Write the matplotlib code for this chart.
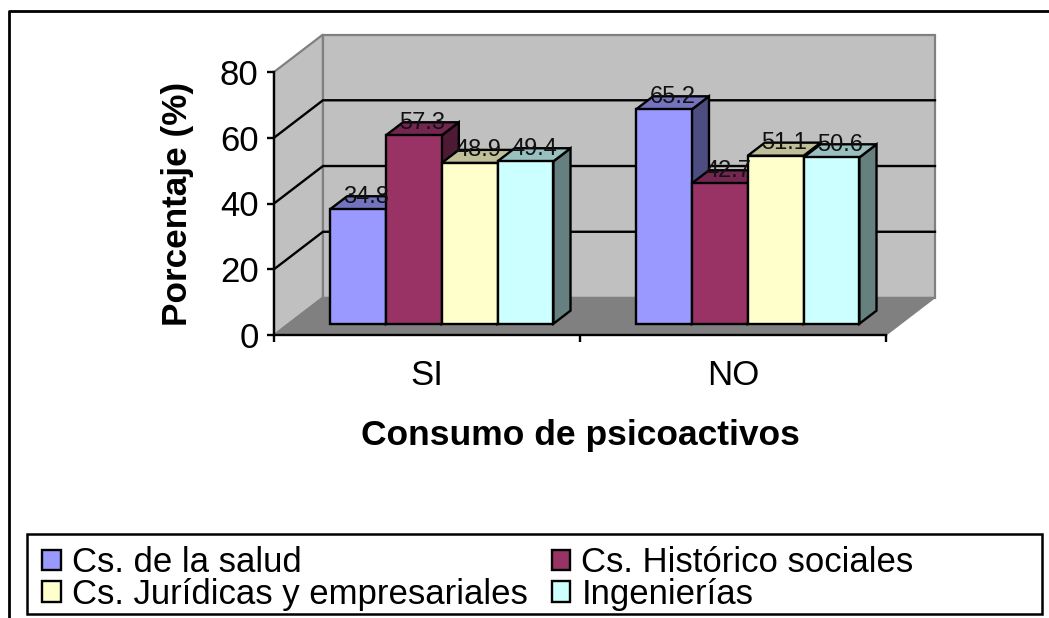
import matplotlib
matplotlib.use("Agg")
import matplotlib.pyplot as plt
from matplotlib.patches import Polygon, Rectangle, Patch
from matplotlib.lines import Line2D

plt.rcParams['font.family'] = ['Liberation Sans', 'DejaVu Sans']

categories = ['SI', 'NO']
series_names = ['Cs. de la salud', 'Cs. Histórico sociales',
                'Cs. Jurídicas y empresariales', 'Ingenierías']
salud = [34.8, 65.2]
historico = [57.3, 42.7]
juridicas = [48.9, 51.1]
ingenierias = [49.4, 50.6]
y_ticks = [0, 20, 40, 60, 80]

series = [salud, historico, juridicas, ingenierias]
front = ['#9999FF', '#993366', '#FFFFCC', '#CCFFFF']
top = ['#7373BF', '#732650', '#BFBF99', '#99BFBF']
side = ['#4D4D80', '#4D1A33', '#808066', '#668080']

W, H = 1049, 618
fig = plt.figure(figsize=(W / 100, H / 100), dpi=100, facecolor='white')
L, R, T, B = 274, 886, 72, 335
ax = fig.add_axes([L / W, 1 - B / H, (R - L) / W, (B - T) / H])
ax.set_xlim(0, 2)
ax.set_ylim(0, 80)
ax.patch.set_visible(False)

DX = 0.16     # full depth in category units
DY = 11.4     # full depth in value units


def p(x, v, d):
    return (x + d * DX, v + d * DY)


def poly(pts, fc, ec, lw, z):
    ax.add_patch(Polygon(pts, closed=True, facecolor=fc, edgecolor=ec,
                         linewidth=lw, zorder=z, clip_on=False,
                         joinstyle='miter'))


# walls and floor
poly([p(0, 0, 0), p(0, 80, 0), p(0, 80, 1), p(0, 0, 1)], '#C0C0C0', '#808080', 1.6, 1)
poly([p(0, 0, 1), p(0, 80, 1), p(2, 80, 1), p(2, 0, 1)], '#C0C0C0', '#808080', 1.6, 1)
poly([p(0, 0, 0), p(0, 0, 1), p(2, 0, 1), p(2, 0, 0)], '#808080', '#808080', 1, 1.5)

# gridlines on the walls
for t in y_ticks[1:-1]:
    xs, ys = zip(p(0, t, 0), p(0, t, 1), p(2, t, 1))
    ax.plot(xs, ys, color='black', lw=1.7, zorder=2, clip_on=False)

# bars
GAP = 0.135
BW = 0.1825
D0, D1 = 0.30, 0.65
z = 3
for c in range(len(categories)):
    for s, vals in enumerate(series):
        v = vals[c]
        x0 = c + GAP + s * BW
        x1 = x0 + BW
        poly([p(x1, 0, D0), p(x1, v, D0), p(x1, v, D1), p(x1, 0, D1)], side[s], 'black', 1.7, z)
        poly([p(x0, v, D0), p(x0, v, D1), p(x1, v, D1), p(x1, v, D0)], top[s], 'black', 1.7, z)
        poly([p(x0, 0, D0), p(x0, v, D0), p(x1, v, D0), p(x1, 0, D0)], front[s], 'black', 1.7, z)
        z += 0.1
        lx, ly = p((x0 + x1) / 2, v, (D0 + D1) / 2)
        ax.text(lx, ly, f'{v:.1f}', ha='center', va='baseline', fontsize=17,
                color='#111111', zorder=10, clip_on=False)

# axes
for sp in ['top', 'right']:
    ax.spines[sp].set_visible(False)
for sp in ['left', 'bottom']:
    ax.spines[sp].set_linewidth(1.7)
    ax.spines[sp].set_zorder(2.5)
ax.set_yticks(y_ticks)
ax.tick_params(axis='y', labelsize=25, length=5, width=1.7, pad=6)
ax.set_xticks([0, 1, 2])
ax.set_xticklabels([])
ax.tick_params(axis='x', which='major', length=5, width=1.7)
ax.set_xticks([0.5, 1.5], minor=True)
ax.set_xticklabels(categories, minor=True)
ax.tick_params(axis='x', which='minor', length=0, labelsize=25, pad=17)
ax.set_xlabel('Consumo de psicoactivos', fontsize=25.5, fontweight='bold')
ax.xaxis.set_label_coords(0.5, -0.382, transform=ax.transAxes)
ax.xaxis.label.set_verticalalignment('center')
ax.set_ylabel('Porcentaje (%)', fontsize=25.3, fontweight='bold')
ax.yaxis.set_label_coords((178 - L) / (R - L), (B - 204) / (B - T), transform=ax.transAxes)
ax.yaxis.label.set_verticalalignment('center')

# outer frame
fig.add_artist(Line2D([9 / W, 9 / W, 1], [0, 1 - 11 / H, 1 - 11 / H],
                      color='black', lw=2, transform=fig.transFigure))

# legend box
fig.add_artist(Rectangle((27 / W, 1 - 614 / H), (1042 - 27) / W, (614 - 534) / H,
                         facecolor='white', edgecolor='black', lw=1.8,
                         transform=fig.transFigure, zorder=5))
handles = [Patch(facecolor=front[i], edgecolor='black', linewidth=1.7) for i in range(4)]
order = [0, 2, 1, 3]
leg = fig.legend([handles[i] for i in order], [series_names[i] for i in order],
                 ncol=2, frameon=False, fontsize=25, loc='upper left',
                 bbox_to_anchor=(39 / W, 1 - 543 / H), borderaxespad=0, borderpad=0.1,
                 handlelength=0.52, handleheight=0.52, handletextpad=0.32,
                 labelspacing=-0.05, columnspacing=0.71)
leg.set_zorder(6)

fig.savefig('out.png', dpi=100, facecolor='white')
